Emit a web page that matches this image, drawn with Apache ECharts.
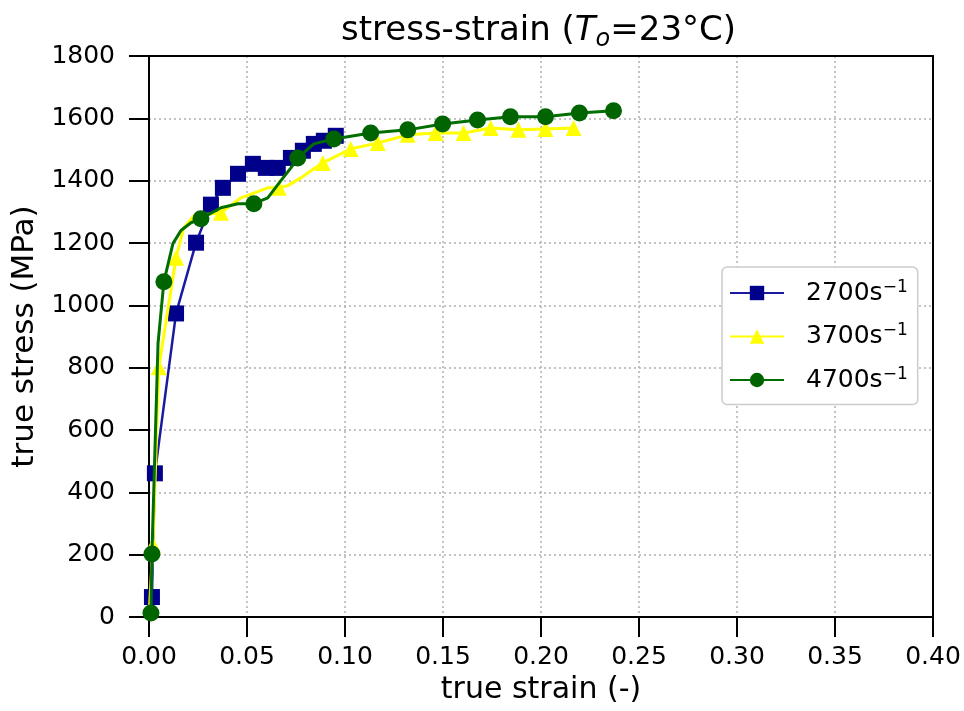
<!DOCTYPE html>
<html>
<head>
<meta charset="utf-8">
<script src="https://cdn.jsdelivr.net/npm/echarts@6/dist/echarts.min.js"></script>
<style>
html,body{margin:0;padding:0;background:#fff;}
#chart{width:964px;height:711px;}
</style>
</head>
<body>
<div id="chart"></div>
<script>
// ---- data ----
const xTicks = [0, 0.05, 0.10, 0.15, 0.20, 0.25, 0.30, 0.35, 0.40];
const yTicks = [0, 200, 400, 600, 800, 1000, 1200, 1400, 1600, 1800];

const names = ['2700s-1', '3700s-1', '4700s-1'];

// 2700 s^-1
const strain2700 = [0.001, 0.0015, 0.003, 0.0138, 0.024, 0.0316, 0.0377, 0.0454, 0.053, 0.0596, 0.0657, 0.0724, 0.0785, 0.0841, 0.0892, 0.0953];
const stress2700 = [0, 64, 461, 974, 1201, 1323, 1377, 1422, 1454, 1441, 1441, 1473, 1496, 1518, 1528, 1544];
const mark2700   = [0, 1, 1, 1, 1, 1, 1, 1, 1, 1, 1, 1, 1, 1, 1, 1];

// 3700 s^-1
const strain3700 = [0, 0.002, 0.005, 0.0138, 0.0178, 0.0229, 0.0367, 0.0469, 0.0606, 0.0662, 0.0708, 0.0775, 0.0841, 0.0887, 0.1029, 0.1167, 0.132, 0.1462, 0.1605, 0.1743, 0.1885, 0.2023, 0.2166];
const stress3700 = [0, 231, 801, 1153, 1249, 1287, 1297, 1345, 1377, 1377, 1384, 1409, 1438, 1457, 1502, 1521, 1547, 1553, 1553, 1569, 1563, 1566, 1569];
const mark3700   = [0, 1, 1, 1, 0, 0, 1, 0, 0, 1, 0, 0, 0, 1, 1, 1, 1, 1, 1, 1, 1, 1, 1];

// 4700 s^-1
const strain4700 = [0.001, 0.0015, 0.0046, 0.0076, 0.0122, 0.0163, 0.0214, 0.0265, 0.0367, 0.0454, 0.0535, 0.0606, 0.0673, 0.0724, 0.0759, 0.0841, 0.0943, 0.1131, 0.132, 0.1498, 0.1676, 0.1844, 0.2023, 0.2196, 0.237];
const stress4700 = [13, 202, 877, 1076, 1198, 1240, 1265, 1278, 1313, 1326, 1326, 1345, 1400, 1441, 1473, 1518, 1534, 1553, 1563, 1582, 1595, 1605, 1605, 1617, 1624];
const mark4700   = [1, 1, 0, 1, 0, 0, 0, 1, 0, 0, 1, 0, 0, 0, 1, 0, 1, 1, 1, 1, 1, 1, 1, 1, 1];

function build(xs, ys, ms) {
  return xs.map((x, i) => ({ value: [x, ys[i]], symbol: ms[i] ? undefined : 'none' }));
}

const FONT = 'DejaVu Sans';
const chart = echarts.init(document.getElementById('chart'), null, { renderer: 'canvas' });

const legendLabel = { '2700s-1': '2700', '3700s-1': '3700', '4700s-1': '4700' };
const xMin = xTicks[0], xMax = xTicks[xTicks.length - 1], xStep = xTicks[1] - xTicks[0];
const yMin = yTicks[0], yMax = yTicks[yTicks.length - 1], yStep = yTicks[1] - yTicks[0];

const spine = { show: true, onZero: false, lineStyle: { color: '#000', width: 2 } };
const tick = { show: true, length: 20, lineStyle: { color: '#000', width: 2 } };
const grid = { show: true, lineStyle: { color: '#b0b0b0', width: 1.5, type: [2, 3] } };

chart.setOption({
  backgroundColor: '#fff',
  animation: false,
  title: {
    text: '{a|stress-strain (}{i|T}{s|o}{a|=23°C)}',
    left: 341,
    top: 11,
    padding: 0,
    textStyle: {
      fontWeight: 'normal',
      rich: {
        a: { fontFamily: FONT, fontSize: 34, fontWeight: 'normal', color: '#000', lineHeight: 41 },
        i: { fontFamily: FONT, fontSize: 34, fontWeight: 'normal', color: '#000', fontStyle: 'italic', lineHeight: 41 },
        s: { fontFamily: FONT, fontSize: 24, fontWeight: 'normal', color: '#000', fontStyle: 'italic', lineHeight: 20, verticalAlign: 'bottom' }
      }
    }
  },
  legend: {
    orient: 'vertical',
    left: 722,
    top: 267,
    padding: [12, 10, 12, 7],
    itemGap: 17,
    itemWidth: 54,
    itemHeight: 18,
    backgroundColor: '#fff',
    borderColor: '#cccccc',
    borderWidth: 1.5,
    borderRadius: 5,
    data: names,
    formatter: function (n) { return '{b|' + legendLabel[n] + 's}{p|\u22121}'; },
    textStyle: {
      padding: [0, 0, 0, 17],
      rich: {
        b: { fontFamily: FONT, fontSize: 25, color: '#000', lineHeight: 28 },
        p: { fontFamily: FONT, fontSize: 17, color: '#000', lineHeight: 14, verticalAlign: 'top' }
      }
    }
  },
  grid: {
    left: 149, right: 31, top: 56, bottom: 94,
    containLabel: false, outerBoundsMode: 'none'
  },
  xAxis: [{
    type: 'value', min: xMin, max: xMax, interval: xStep,
    name: 'true strain (-)', nameLocation: 'middle', nameGap: 56,
    nameTextStyle: { fontFamily: FONT, fontSize: 30, color: '#000' },
    axisLine: spine, axisTick: tick,
    axisLabel: { fontFamily: FONT, fontSize: 25, color: '#000', margin: 28,
      formatter: v => v.toFixed(2) },
    splitLine: grid
  }, {
    type: 'value', position: 'top', min: xMin, max: xMax, interval: xStep,
    axisLine: spine, axisTick: { show: false }, axisLabel: { show: false }, splitLine: { show: false }
  }],
  yAxis: [{
    type: 'value', min: yMin, max: yMax, interval: yStep,
    name: 'true stress (MPa)', nameLocation: 'middle', nameGap: 106,
    nameTextStyle: { fontFamily: FONT, fontSize: 31, color: '#000' },
    axisLine: spine, axisTick: tick,
    axisLabel: { fontFamily: FONT, fontSize: 25, color: '#000', margin: 34,
      formatter: v => String(v) },
    splitLine: grid
  }, {
    type: 'value', position: 'right', min: yMin, max: yMax, interval: yStep,
    axisLine: spine, axisTick: { show: false }, axisLabel: { show: false }, splitLine: { show: false }
  }],
  series: [
    {
      name: names[0], type: 'line', data: build(strain2700, stress2700, mark2700),
      symbol: 'rect', symbolSize: 16, showSymbol: true,
      lineStyle: { color: '#1a1aa0', width: 2.5 },
      itemStyle: { color: '#00008b', borderWidth: 0 }, z: 2
    },
    {
      name: names[1], type: 'line', data: build(strain3700, stress3700, mark3700),
      symbol: 'triangle', symbolSize: 16, showSymbol: true,
      lineStyle: { color: '#ffff00', width: 3 },
      itemStyle: { color: '#ffff00', borderWidth: 0 }, z: 3
    },
    {
      name: names[2], type: 'line', data: build(strain4700, stress4700, mark4700),
      symbol: 'circle', symbolSize: 17, showSymbol: true,
      lineStyle: { color: '#006e00', width: 3 },
      itemStyle: { color: '#006400', borderWidth: 0 }, z: 4
    }
  ]
});
</script>
</body>
</html>
